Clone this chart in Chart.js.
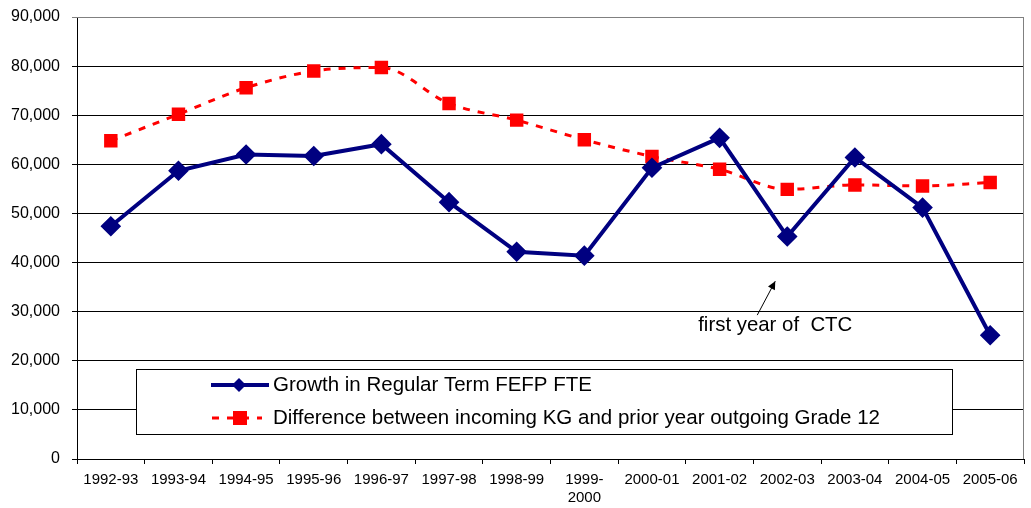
<!DOCTYPE html>
<html>
<head>
<meta charset="utf-8">
<script src="https://cdn.jsdelivr.net/npm/chart.js@4/dist/chart.umd.min.js"></script>
<style>
  html, body { margin: 0; padding: 0; background: #fff; }
  #wrap { width: 1031px; height: 508px; position: relative; }
</style>
</head>
<body>
<div id="wrap"><canvas id="chart"></canvas></div>
<script>
// school years on the x axis
const years = ['1992-93', '1993-94', '1994-95', '1995-96', '1996-97', '1997-98', '1998-99',
    ['1999-', '2000'], '2000-01', '2001-02', '2002-03', '2003-04', '2004-05', '2005-06'];

// Growth in Regular Term FEFP FTE
const fteGrowth = [47400, 58700, 62000, 61700, 64100, 52300, 42200, 41400, 59300, 65400, 45300, 61400, 51200, 25200];

// Difference between incoming KG and prior year outgoing Grade 12
const kgDiff = [64800, 70200, 75600, 79000, 79700, 72400, 69000, 65000, 61600, 59000, 54900, 55800, 55600, 56300];

const yMax = 90000;
const yStep = 10000;

const fteLabel = 'Growth in Regular Term FEFP FTE';
const kgLabel = 'Difference between incoming KG and prior year outgoing Grade 12';

// legend box + annotation drawn inside the plot
const overlayPlugin = {
    id: 'overlay',
    afterDraw(chart) {
        const ctx = chart.ctx;
        const area = chart.chartArea;
        const x = chart.scales.x;
        const y = chart.scales.y;

        // plot border (top / right)
        ctx.save();
        ctx.strokeStyle = '#808080';
        ctx.lineWidth = 1;
        ctx.beginPath();
        ctx.moveTo(area.left, area.top + 0.5);
        ctx.lineTo(area.right - 0.5, area.top + 0.5);
        ctx.lineTo(area.right - 0.5, area.bottom);
        ctx.stroke();

        // legend
        const bx = 136, by = 369, bw = 816, bh = 65;
        ctx.fillStyle = '#fff';
        ctx.fillRect(bx, by, bw, bh);
        ctx.strokeStyle = '#000';
        ctx.strokeRect(bx + 0.5, by + 0.5, bw, bh);

        const row1 = 385, row2 = 418;
        // blue sample
        ctx.strokeStyle = '#000080';
        ctx.lineWidth = 4;
        ctx.beginPath();
        ctx.moveTo(211, row1);
        ctx.lineTo(269, row1);
        ctx.stroke();
        ctx.fillStyle = '#000080';
        ctx.beginPath();
        ctx.moveTo(239, row1 - 7);
        ctx.lineTo(246, row1);
        ctx.lineTo(239, row1 + 7);
        ctx.lineTo(232, row1);
        ctx.closePath();
        ctx.fill();
        // red sample
        ctx.strokeStyle = '#ff0000';
        ctx.lineWidth = 3;
        ctx.setLineDash([7, 8]);
        ctx.beginPath();
        ctx.moveTo(212, row2);
        ctx.lineTo(262, row2);
        ctx.stroke();
        ctx.setLineDash([]);
        ctx.fillStyle = '#ff0000';
        ctx.fillRect(233, row2 - 7, 14, 14);

        ctx.fillStyle = '#000';
        ctx.font = '20.5px "Liberation Sans", Arial, sans-serif';
        ctx.textBaseline = 'middle';
        ctx.textAlign = 'left';
        ctx.fillText(fteLabel, 273, row1);
        ctx.fillText(kgLabel, 273, row2);

        // annotation arrow near 2002-03
        const cx = x.getPixelForValue(10);
        const tipX = cx - 12, tipY = y.getPixelForValue(36200);
        const tailX = cx - 30, tailY = y.getPixelForValue(29300);
        ctx.strokeStyle = '#000';
        ctx.lineWidth = 1;
        ctx.beginPath();
        ctx.moveTo(tailX, tailY);
        ctx.lineTo(tipX, tipY);
        ctx.stroke();
        const ang = Math.atan2(tipY - tailY, tipX - tailX);
        ctx.beginPath();
        ctx.moveTo(tipX, tipY);
        ctx.lineTo(tipX - 9 * Math.cos(ang - 0.45), tipY - 9 * Math.sin(ang - 0.45));
        ctx.lineTo(tipX - 9 * Math.cos(ang + 0.45), tipY - 9 * Math.sin(ang + 0.45));
        ctx.closePath();
        ctx.fill();
        ctx.font = '20.4px "Liberation Sans", Arial, sans-serif';
        ctx.textAlign = 'center';
        ctx.fillText('first year of  CTC', cx - 12, y.getPixelForValue(27300));
        ctx.restore();
    }
};

new Chart(document.getElementById('chart'), {
    type: 'line',
    data: {
        labels: years,
        datasets: [{
            label: fteLabel,
            data: fteGrowth,
            borderColor: '#000080',
            backgroundColor: '#000080',
            borderWidth: 4,
            pointStyle: 'rectRot',
            pointRadius: 7.5,
            pointHoverRadius: 7.5,
            tension: 0,
            order: 1
        }, {
            label: kgLabel,
            data: kgDiff,
            borderColor: '#ff0000',
            backgroundColor: '#ff0000',
            borderWidth: 3,
            borderDash: [7, 8],
            pointStyle: 'rect',
            pointRadius: 9.5,
            pointHoverRadius: 9.5,
            pointBorderWidth: 0,
            cubicInterpolationMode: 'monotone',
            order: 2
        }]
    },
    options: {
        responsive: true,
        maintainAspectRatio: false,
        animation: false,
        layout: { autoPadding: false, padding: { top: 17, right: 7, left: 0, bottom: 0 } },
        plugins: {
            legend: { display: false },
            tooltip: { enabled: false }
        },
        scales: {
            x: {
                offset: true,
                grid: {
                    offset: true,
                    drawOnChartArea: false,
                    drawTicks: true,
                    tickLength: 5,
                    color: '#000'
                },
                border: { color: '#000', width: 1 },
                ticks: {
                    color: '#000',
                    padding: 7,
                    maxRotation: 0,
                    autoSkip: false,
                    font: { family: '"Liberation Sans", Arial, sans-serif', size: 15 }
                },
                afterFit(scale) {
                    scale.height = 49;
                    scale.paddingLeft = 0;
                    scale.paddingRight = 0;
                }
            },
            y: {
                min: 0,
                max: yMax,
                grid: {
                    color: (c) => c.tick && c.tick.value === yMax ? '#808080' : '#000',
                    tickLength: 5,
                    drawTicks: true
                },
                border: { color: '#000', width: 1 },
                ticks: {
                    stepSize: yStep,
                    color: '#000',
                    padding: 12,
                    font: { family: '"Liberation Sans", Arial, sans-serif', size: 16 },
                    callback: (v) => v.toLocaleString('en-US')
                },
                afterFit(scale) {
                    scale.width = 77;
                    scale.paddingTop = 0;
                    scale.paddingBottom = 0;
                }
            }
        }
    },
    plugins: [overlayPlugin]
});
</script>
</body>
</html>
